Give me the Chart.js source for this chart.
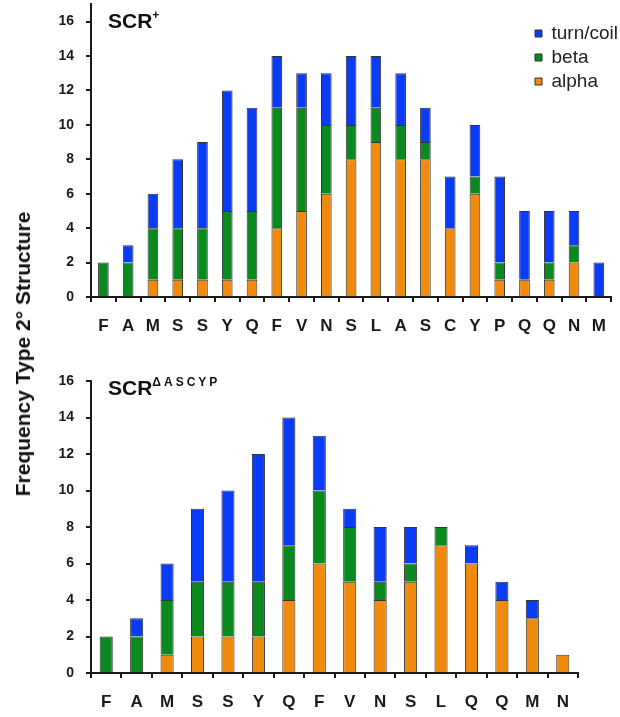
<!DOCTYPE html>
<html lang="en">
<head>
<meta charset="UTF-8">
<title>Frequency Type 2° Structure</title>
<script src="https://cdn.jsdelivr.net/npm/chart.js"></script>
<style>
  body { margin: 0; background: #fff; font-family: Arial, "Liberation Sans", sans-serif; }
  #wrap { position: relative; width: 620px; height: 717px; overflow: hidden; }
  canvas { position: absolute; left: 0; }
  #chartTop { top: -16px; }
  #chartBottom { top: 355px; }
  .panelTitle { position: absolute; left: 108px; font-weight: bold; font-size: 21px; color: #111; }
  .panelTitle sup { font-size: 12px; vertical-align: 9px; }
  #titleBottom sup { letter-spacing: 3px; }
  #yTitle {
    position: absolute; left: 23px; top: 354px; font-weight: bold; font-size: 21px; color: #111;
    white-space: nowrap; transform: translate(-50%, -50%) rotate(-90deg);
  }
</style>
</head>
<body>
<div id="wrap">
  <canvas id="chartTop" width="620" height="361"></canvas>
  <canvas id="chartBottom" width="620" height="362"></canvas>
  <div class="panelTitle" id="titleTop" style="top:8px">SCR<sup>+</sup></div>
  <div class="panelTitle" id="titleBottom" style="top:375px">SCR<sup>ΔASCYP</sup></div>
  <div id="yTitle">Frequency Type 2° Structure</div>
</div>
<script>
// SCR+ panel
const topResidues = ['F','A','M','S','S','Y','Q','F','V','N','S','L','A','S','C','Y','P','Q','Q','N','M'];
const topAlpha = [0,0,1,1,1,1,1,4,5,6,8,9,8,8,4,6,1,1,1,2,0];
const topBeta  = [2,2,3,3,3,4,4,7,6,4,2,2,2,1,0,1,1,0,1,1,0];
const topTurn  = [0,1,2,4,5,7,6,3,2,3,4,3,3,2,3,3,5,4,3,2,2];

// SCR-deltaASCYP panel
const bottomResidues = ['F','A','M','S','S','Y','Q','F','V','N','S','L','Q','Q','M','N'];
const bottomAlpha = [0,0,1,2,2,2,4,6,5,4,5,7,6,4,3,1];
const bottomBeta  = [2,2,3,3,3,3,3,4,3,1,1,1,0,0,0,0];
const bottomTurn  = [0,1,2,4,5,7,7,3,1,3,2,0,1,1,1,0];

const seriesNames = ['alpha', 'beta', 'turn/coil'];
const seriesColors = ['#f08a0c', '#0a8a1e', '#0a3cf8'];

const ink = '#1a1a1a';

// put the legend in the top right corner of the plot, like the figure
const legendCorner = {
  id: 'legendCorner',
  afterLayout(chart) {
    const lg = chart.legend;
    if (!lg || !lg.options.display) return;
    const w = lg.width, h = lg.height;
    lg.left = 530;
    lg.top = 35;
    lg.right = lg.left + w;
    lg.bottom = lg.top + h;
  }
};

function makeDatasets(alpha, beta, turn) {
  return [alpha, beta, turn].map((d, i) => ({
    label: seriesNames[i],
    data: d,
    backgroundColor: seriesColors[i],
    borderColor: '#333',
    borderWidth: 1,
    barPercentage: 0.43,
    categoryPercentage: 1
  }));
}

function makeChart(id, labels, datasets, opts) {
  return new Chart(document.getElementById(id), {
    type: 'bar',
    data: { labels: labels, datasets: datasets },
    plugins: opts.plugins || [],
    options: {
      responsive: false,
      animation: false,
      layout: { padding: { top: opts.padTop, right: opts.padRight, left: 0, bottom: 0 } },
      plugins: {
        tooltip: { enabled: false },
        legend: opts.legend
      },
      scales: {
        x: {
          stacked: true,
          afterFit: (s) => { s.height = opts.xHeight; },
          border: { color: ink, width: 2 },
          grid: { offset: true, drawOnChartArea: false, color: ink, lineWidth: 2, tickLength: 5 },
          ticks: { color: ink, padding: 14, font: { family: 'Arial', size: 17, weight: 'bold' } }
        },
        y: {
          stacked: true,
          min: 0,
          max: opts.max,
          bounds: 'data',
          afterFit: (s) => { s.width = 91; },
          afterBuildTicks: (s) => { s.ticks = s.ticks.filter(t => t.value % 2 === 0); },
          border: { color: ink, width: 2 },
          grid: { drawOnChartArea: false, color: ink, lineWidth: 2, tickLength: 5 },
          ticks: {
            stepSize: 2, color: ink, padding: 12,
            font: { family: 'Arial', size: 14, weight: 'bold' }
          }
        }
      }
    }
  });
}

makeChart('chartTop', topResidues, makeDatasets(topAlpha, topBeta, topTurn), {
  padTop: 4, padRight: 5, xHeight: 48, max: 17,
  plugins: [legendCorner],
  legend: {
    display: true,
    position: 'chartArea',
    align: 'start',
    reverse: true,
    labels: {
      boxWidth: 7, boxHeight: 7, padding: 5, color: '#222',
      font: { family: 'Arial', size: 19 }
    }
  }
});

makeChart('chartBottom', bottomResidues, makeDatasets(bottomAlpha, bottomBeta, bottomTurn), {
  padTop: 26, padRight: 42, xHeight: 44, max: 16,
  legend: { display: false }
});
</script>
</body>
</html>
